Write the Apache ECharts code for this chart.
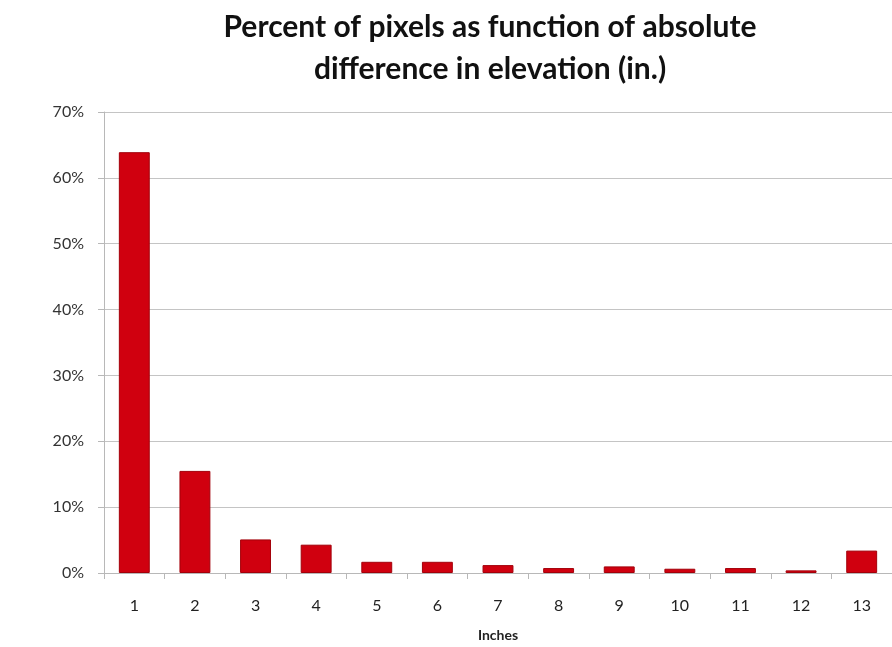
<!DOCTYPE html>
<html>
<head>
<meta charset="utf-8">
<script src="https://cdn.jsdelivr.net/npm/echarts@6/dist/echarts.min.js"></script>
<style>
  html, body { margin: 0; padding: 0; background: #ffffff; }
  #chart { width: 892px; height: 647px; }
</style>
</head>
<body>
<div id="chart"></div>
<script>
// Absolute elevation difference bins (inches)
const inches = ['1', '2', '3', '4', '5', '6', '7', '8', '9', '10', '11', '12', '13'];
// Share of pixels in each bin (%)
const percentPixels = [63.9, 15.5, 5.1, 4.3, 1.7, 1.7, 1.2, 0.75, 1.0, 0.65, 0.75, 0.4, 3.4];

const fontFamily = 'Lato, "Open Sans", "Liberation Sans", sans-serif';

const chart = echarts.init(document.getElementById('chart'), null, { renderer: 'canvas' });
chart.setOption({
  backgroundColor: '#ffffff',
  animation: false,
  title: {
    text: 'Percent of pixels as function of absolute\ndifference in elevation (in.)',
    left: 485,
    top: 1,
    textAlign: 'center',
    textStyle: {
      fontFamily: fontFamily,
      fontSize: 30,
      fontWeight: 'bold',
      color: '#111111',
      lineHeight: 42
    }
  },
  grid: {
    left: 104,
    top: 112,
    width: 793,
    height: 470,
    containLabel: false
  },
  xAxis: {
    type: 'category',
    data: inches,
    name: 'Inches',
    nameLocation: 'middle',
    nameGap: 55,
    nameTextStyle: {
      fontFamily: fontFamily,
      fontSize: 14,
      fontWeight: 'bold',
      color: '#222222'
    },
    axisLine: { lineStyle: { color: '#b8b8b8', width: 1 } },
    axisTick: { show: true, alignWithLabel: false, length: 6, lineStyle: { color: '#b8b8b8' } },
    axisLabel: {
      fontFamily: fontFamily,
      fontSize: 16,
      color: '#222222',
      margin: 25
    }
  },
  yAxis: {
    type: 'value',
    min: 0,
    max: 70,
    interval: 10,
    axisLine: { show: true, lineStyle: { color: '#b8b8b8', width: 1 } },
    axisTick: { show: true, length: 6, lineStyle: { color: '#b8b8b8' } },
    splitLine: { lineStyle: { color: '#c4c4c4', width: 1 } },
    axisLabel: {
      formatter: '{value}%',
      fontFamily: fontFamily,
      fontSize: 16,
      color: '#333333',
      margin: 20
    }
  },
  series: [{
    type: 'bar',
    data: percentPixels,
    barWidth: '51%',
    itemStyle: {
      color: '#d0000f',
      borderColor: '#a3000a',
      borderWidth: 1
    }
  }]
});
</script>
</body>
</html>
